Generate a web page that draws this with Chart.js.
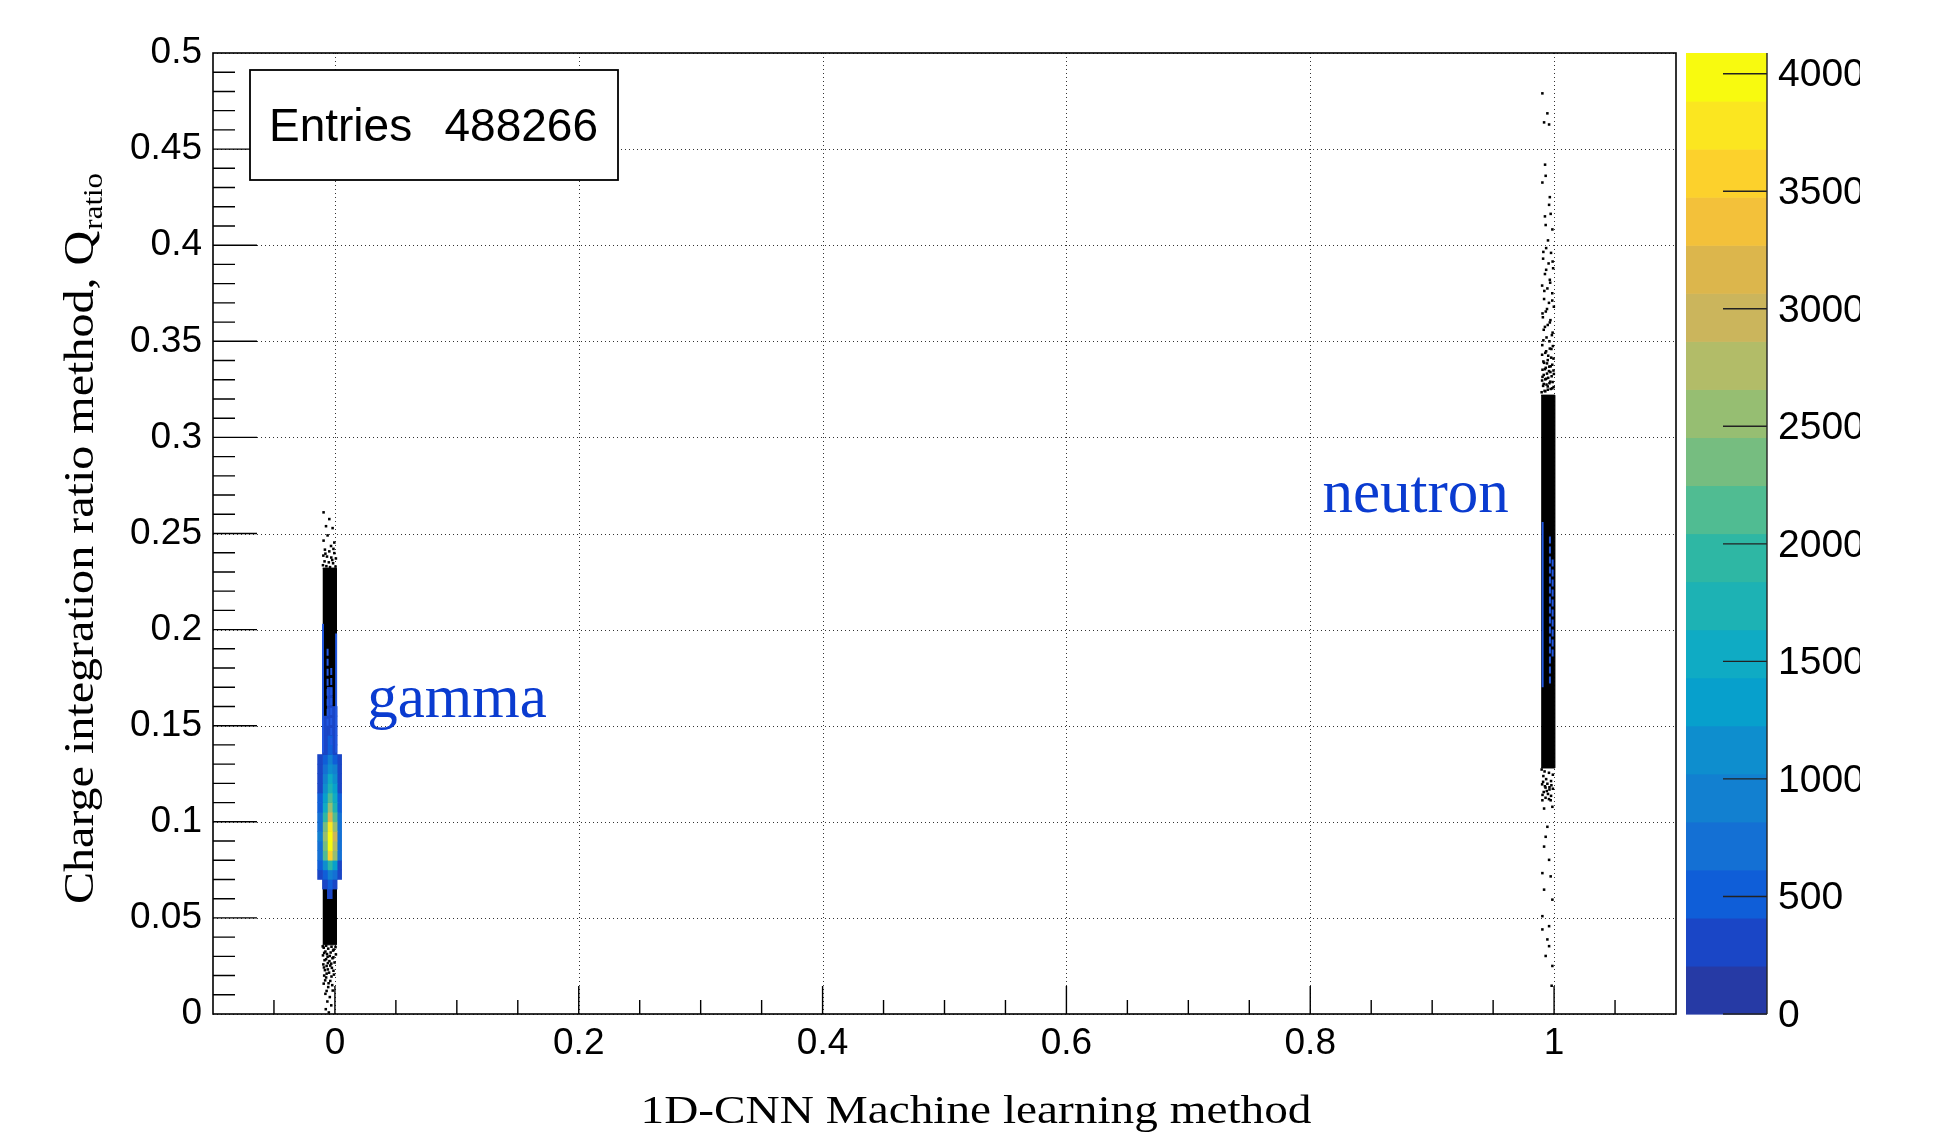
<!DOCTYPE html>
<html>
<head>
<meta charset="utf-8">
<title>Q_ratio vs 1D-CNN output</title>
<script src="https://cdn.jsdelivr.net/npm/chart.js@4.4.1/dist/chart.umd.min.js"></script>
<style>
  html, body { margin: 0; padding: 0; background: #fff; }
  #wrap { width: 1942px; height: 1134px; position: relative; }
  .fontwarm { position: absolute; left: -9999px; top: 0; }
</style>
</head>
<body>
<div id="wrap"><canvas id="chart"></canvas></div>
<span class="fontwarm" style="font-family:'Liberation Serif'">gamma</span>
<span class="fontwarm" style="font-family:'Liberation Sans'">0.45</span>
<script>
// axis ticks
const xTicks = [0, 0.2, 0.4, 0.6, 0.8, 1];
const yTicks = [0, 0.05, 0.1, 0.15, 0.2, 0.25, 0.3, 0.35, 0.4, 0.45, 0.5];
const zTicks = [0, 500, 1000, 1500, 2000, 2500, 3000, 3500, 4000];
const zMax = 4088;
const nLevels = 20;
const entries = 488266;

// colour levels (bottom -> top of the palette bar)
const palette = [
  '#263aa5', '#1a46c6', '#0f5ed8', '#1470d4', '#1280d0',
  '#0e8ece', '#07a0cc', '#0fabc4', '#1db2b4', '#2eb7a4',
  '#50bc92', '#76bd80', '#96be72', '#b2bc68', '#cbb55c',
  '#dcb64c', '#f3c13a', '#fcd12c', '#fbe620', '#f8fa0f'
];

// gamma cluster: solid band (x range, y range) and the scattered tails
const gammaBandX = [-0.0100, 0.0013];
const gammaBandY = [0.036, 0.232];
const gammaTail = [
  [-0.0093,0.2610],[-0.0046,0.2575],[-0.0073,0.2538],[-0.0019,0.2528],[-0.0060,0.2490],
  [-0.0093,0.2463],[-0.0005,0.2453],[-0.0032,0.2435],[-0.0082,0.2416],[-0.0046,0.2407],
  [-0.0005,0.2398],[-0.0095,0.2385],[-0.0065,0.2380],[-0.0030,0.2375],[0.0008,0.2370],
  [-0.0085,0.2355],[-0.0050,0.2350],[-0.0015,0.2345],[-0.0098,0.2335],[-0.0070,0.2330],
  [0.0005,0.2328],[-0.0040,0.2325],[-0.0022,0.2362],[-0.0078,0.2395],[-0.0012,0.2420],
  [-0.0092,0.0345],[-0.0055,0.0340],[-0.0010,0.0335],[-0.0078,0.0325],[-0.0035,0.0320],
  [0.0008,0.0310],[-0.0098,0.0305],[-0.0060,0.0298],[-0.0020,0.0290],[-0.0085,0.0280],
  [-0.0045,0.0275],[-0.0003,0.0268],[-0.0095,0.0258],[-0.0068,0.0250],[-0.0025,0.0240],
  [-0.0082,0.0228],[-0.0048,0.0215],[-0.0008,0.0205],[-0.0072,0.0190],[-0.0038,0.0172],
  [-0.0092,0.0158],[-0.0055,0.0140],[-0.0018,0.0122],[-0.0078,0.0105],[-0.0042,0.0088],
  [-0.0062,0.0065],[-0.0030,0.0045],[-0.0075,0.0025],[-0.0050,0.0008],[-0.0015,0.0330],
  [-0.0065,0.0312],[-0.0030,0.0262],[-0.0058,0.0232],[-0.0088,0.0200],
  [-0.0100,0.0352],[-0.0072,0.0355],[-0.0028,0.0350],[0.0005,0.0348],[-0.0088,0.0318],
  [-0.0042,0.0302],[-0.0012,0.0295],[-0.0072,0.0285],[-0.0058,0.0265],[-0.0090,0.0242],
  [-0.0038,0.0252],[-0.0012,0.0225],[-0.0068,0.0210],[-0.0028,0.0195],[-0.0080,0.0175],
  [-0.0052,0.0160],[-0.0022,0.0150],[-0.0068,0.0120]
];

// neutron cluster
const neutronBandX = [0.9894, 1.0007];
const neutronBandY = [0.128, 0.322];
const neutronTail = [
  [0.9904,0.4790],[0.9945,0.4686],[0.9918,0.4639],[0.9959,0.4628],[0.9926,0.4419],
  [0.9931,0.4361],[0.9904,0.4326],[0.9959,0.4210],[0.9972,0.4163],[0.9931,0.4105],
  [0.9986,0.4082],[0.9935,0.3985],[0.9975,0.3960],[0.9910,0.3930],[0.9955,0.3905],
  [0.9992,0.3880],[0.9925,0.3850],[0.9965,0.3820],[0.9902,0.3790],[0.9945,0.3775],
  [0.9985,0.3750],[0.9918,0.3720],[0.9958,0.3700],[0.9998,0.3680],[0.9932,0.3655],
  [0.9908,0.3625],[0.9970,0.3610],[0.9948,0.3585],[0.9915,0.3560],[0.9988,0.3545],
  [0.9938,0.3520],[0.9962,0.3500],[0.9903,0.3480],[0.9978,0.3460],[0.9928,0.3440],
  [0.9952,0.3425],[0.9995,0.3410],[0.9912,0.3395],[0.9942,0.3385],[0.9972,0.3370],
  [0.9925,0.3355],[0.9958,0.3345],[0.9998,0.3330],[0.9905,0.3315],[0.9935,0.3305],
  [0.9968,0.3290],[0.9915,0.3278],[0.9948,0.3265],[0.9985,0.3255],[0.9928,0.3240],
  [0.9898,0.3235],[0.9922,0.3242],[0.9948,0.3248],[0.9972,0.3252],[0.9996,0.3262],
  [0.9910,0.3268],[0.9938,0.3275],[0.9962,0.3282],[0.9988,0.3288],[0.9902,0.3296],
  [0.9928,0.3302],[0.9952,0.3310],[0.9980,0.3318],[0.9915,0.3325],[0.9942,0.3332],
  [0.9970,0.3340],[0.9995,0.3348],[0.9905,0.3352],[0.9932,0.3362],[0.9960,0.3368],
  [0.9985,0.3378],[0.9918,0.3388],[0.9948,0.3402],[0.9976,0.3415],[0.9902,0.3430],
  [0.9935,0.3448],[0.9965,0.3462],[0.9990,0.3475],[0.9912,0.3505],[0.9982,0.3532],
  [0.9925,0.3575],[0.9965,0.3598],[0.9905,0.3645],[0.9942,0.3668],[0.9985,0.3712],
  [0.9920,0.3762],[0.9968,0.3805],[0.9935,0.3872],[0.9988,0.3915],[0.9912,0.3965],
  [0.9950,0.4025],[0.9925,0.4150],[0.9965,0.4250],
  [0.9898,0.1272],[0.9922,0.1262],[0.9958,0.1255],[0.9990,0.1245],[0.9912,0.1238],
  [0.9935,0.1222],[0.9975,0.1212],[0.9902,0.1195],[0.9925,0.1185],[0.9962,0.1180],
  [0.9990,0.1172],[0.9940,0.1160],[0.9905,0.1140],[0.9975,0.1135],[0.9930,0.1125],
  [0.9958,0.1118],[0.9910,0.1208],[0.9945,0.1198],[0.9978,0.1190],[0.9930,0.1178],
  [0.9962,0.1168],[0.9915,0.1155],[0.9950,0.1145],
  [0.9904,0.1112],[0.9972,0.1112],[0.9918,0.1069],[0.9986,0.1078],[0.9945,0.0974],
  [0.9931,0.0922],[0.9918,0.0871],[0.9959,0.0802],[0.9904,0.0733],[0.9972,0.0716],
  [0.9918,0.0647],[0.9986,0.0595],[0.9904,0.0509],[0.9959,0.0457],[0.9904,0.0440],
  [0.9945,0.0388],[0.9959,0.0353],[0.9931,0.0302],[0.9986,0.0250],[0.9980,0.0147]
];

// lowest contour lines: [x, yLow, yHigh]
const gammaContours = [[-0.0098, 0.136, 0.203], [0.0010, 0.136, 0.198], [-0.0060, 0.150, 0.190], [-0.0030, 0.140, 0.180]];
const neutronContours = [[0.9906, 0.170, 0.256], [0.9966, 0.172, 0.250], [0.9988, 0.186, 0.238]];

// coloured core of the gamma peak: column edges, row centres, counts per cell
const heatCols = [-0.0142, -0.0102, -0.0062, -0.0022, 0.0018, 0.0055];
const heatRows = [0.0625, 0.0675, 0.0725, 0.0775, 0.0825, 0.0875, 0.0925, 0.0975, 0.1025, 0.1075, 0.1125,
                  0.1175, 0.1225, 0.1275, 0.1325, 0.1375, 0.1425, 0.1475, 0.1525, 0.1575, 0.1625, 0.1675];
const heatCounts = [
  [0, 120, 230, 150, 0],
  [0, 260, 460, 300, 0],
  [220, 600, 1000, 700, 210],
  [420, 1150, 1900, 1350, 400],
  [700, 2100, 3500, 2500, 650],
  [800, 2400, 3950, 2800, 750],
  [820, 2500, 4080, 2900, 780],
  [760, 2250, 3700, 2600, 720],
  [650, 1900, 3150, 2200, 620],
  [540, 1550, 2550, 1800, 500],
  [460, 1300, 2150, 1500, 430],
  [400, 1080, 1800, 1250, 380],
  [340, 900, 1500, 1050, 320],
  [280, 700, 1150, 820, 260],
  [230, 520, 850, 600, 215],
  [0, 360, 560, 400, 0],
  [0, 280, 420, 300, 0],
  [0, 230, 330, 250, 0],
  [0, 210, 280, 220, 0],
  [0, 0, 250, 210, 0],
  [0, 0, 230, 0, 0],
  [0, 0, 215, 0, 0]
];

// annotation positions (data coordinates)
const gammaLabel = {text: 'gamma', x: 0.0265, y: 0.1545};
const neutronLabel = {text: 'neutron', x: 0.81, y: 0.2612};

const zStep = zMax / nLevels;
const levelOf = c => Math.max(0, Math.min(nLevels - 1, Math.floor(c / zStep)));
const SANS = "'Liberation Sans', Arial, sans-serif";
const SERIF = "'Liberation Serif', 'Times New Roman', serif";
const labelBlue = '#0a3bd0';

function band(bx, by) {
  return [{x: bx[0], y: by[0]}, {x: bx[1], y: by[0]}, {x: bx[1], y: by[1]}, {x: bx[0], y: by[1]}];
}

const datasets = [];

// contour lines (on top)
gammaContours.concat(neutronContours).forEach((c, i) => {
  datasets.push({
    type: 'line', order: 0,
    data: [{x: c[0], y: c[1]}, {x: c[0], y: c[2]}],
    borderColor: '#2157e0', borderWidth: 2, pointRadius: 0, fill: false,
    borderDash: (i === 2 || i === 3 || i >= 5) ? [7, 3] : []
  });
});

// coloured cells
heatCols.slice(0, -1).forEach((left, j) => {
  datasets.push({
    type: 'bar', indexAxis: 'y', order: 1, grouped: false,
    barPercentage: 1, categoryPercentage: 1, borderWidth: 0,
    data: heatRows.map((yc, i) => ({y: yc, x: [left, heatCols[j + 1]], count: heatCounts[i][j]}))
                  .filter(d => d.count >= zStep),
    backgroundColor: c => palette[levelOf(c.raw ? c.raw.count : 0)]
  });
});

// scattered entries
[gammaTail, neutronTail].forEach(t => {
  datasets.push({
    type: 'scatter', order: 2,
    data: t.map(p => ({x: p[0], y: p[1]})),
    pointStyle: 'rect', pointRadius: 1.8, pointBorderWidth: 0,
    backgroundColor: '#000', borderColor: '#000'
  });
});

// dense black bands
[[gammaBandX, gammaBandY], [neutronBandX, neutronBandY]].forEach(b => {
  datasets.push({
    type: 'line', order: 3,
    data: band(b[0], b[1]),
    fill: 'shape', backgroundColor: '#000', borderColor: '#000', borderWidth: 1,
    pointRadius: 0, tension: 0
  });
});

function seg(ctx, x0, y0, x1, y1) {
  ctx.moveTo(x0, y0);
  ctx.lineTo(x1, y1);
}

// ROOT style frame, ticks, palette bar and text
const rootStyle = {
  id: 'rootStyle',
  beforeDatasetsDraw(chart) {
    const {ctx, chartArea: a} = chart;
    const x = chart.scales.x, y = chart.scales.y;
    ctx.save();
    ctx.strokeStyle = '#333';
    ctx.lineWidth = 1;
    ctx.setLineDash([1, 3]);
    ctx.beginPath();
    xTicks.forEach(v => {
      const p = Math.round(x.getPixelForValue(v)) + 0.5;
      seg(ctx, p, a.top, p, a.bottom);
    });
    yTicks.forEach(v => {
      const p = Math.round(y.getPixelForValue(v)) + 0.5;
      seg(ctx, a.left, p, a.right, p);
    });
    ctx.stroke();
    ctx.restore();
  },
  afterDraw(chart) {
    const {ctx, chartArea: a} = chart;
    const x = chart.scales.x, y = chart.scales.y, z = chart.scales.z;
    ctx.save();

    // frame
    ctx.strokeStyle = '#000';
    ctx.lineWidth = 1.6;
    ctx.strokeRect(a.left, a.top, a.right - a.left, a.bottom - a.top);

    // tick marks inside the frame
    ctx.lineWidth = 1.4;
    ctx.beginPath();
    for (let i = 1; i < 24; i++) {
      const v = -0.1 + i * 0.05;
      const major = xTicks.some(t => Math.abs(t - v) < 1e-6);
      const p = x.getPixelForValue(v);
      seg(ctx, p, a.bottom, p, a.bottom - (major ? 28 : 14));
    }
    for (let i = 1; i < 50; i++) {
      const p = y.getPixelForValue(i * 0.01);
      seg(ctx, a.left, p, a.left + (i % 5 === 0 ? 44 : 22), p);
    }
    ctx.stroke();

    // palette bar
    const bx0 = a.right + 10, bx1 = a.right + 91;
    for (let i = 0; i < nLevels; i++) {
      const p0 = z.getPixelForValue(i * zStep), p1 = z.getPixelForValue((i + 1) * zStep);
      ctx.fillStyle = palette[i];
      ctx.fillRect(bx0, p1, bx1 - bx0, p0 - p1 + 0.6);
    }
    ctx.lineWidth = 1.4;
    ctx.strokeStyle = '#222';
    ctx.beginPath();
    seg(ctx, bx1, a.top, bx1, a.bottom);
    zTicks.forEach(v => {
      const p = z.getPixelForValue(v);
      seg(ctx, bx1 - 44, p, bx1, p);
    });
    ctx.stroke();
    ctx.save();
    ctx.beginPath();
    ctx.rect(bx1, 0, 1860 - bx1, chart.height);
    ctx.clip();
    ctx.fillStyle = '#000';
    ctx.font = '39px ' + SANS;
    ctx.textAlign = 'left';
    ctx.textBaseline = 'middle';
    zTicks.forEach(v => ctx.fillText(String(v), bx1 + 11, z.getPixelForValue(v) + 2));
    ctx.restore();

    // statistics box
    const sx = a.left + 37, sy = a.top + 17, sw = 368, sh = 110;
    ctx.fillStyle = '#fff';
    ctx.fillRect(sx, sy, sw, sh);
    ctx.lineWidth = 1.8;
    ctx.strokeStyle = '#000';
    ctx.strokeRect(sx, sy, sw, sh);
    ctx.fillStyle = '#000';
    ctx.font = '46px ' + SANS;
    ctx.textBaseline = 'alphabetic';
    ctx.textAlign = 'left';
    ctx.fillText('Entries', sx + 19, sy + 71);
    ctx.textAlign = 'right';
    ctx.fillText(String(entries), sx + sw - 20, sy + 71);

    // cluster labels
    ctx.fillStyle = labelBlue;
    ctx.textAlign = 'left';
    ctx.font = '61px ' + SERIF;
    [gammaLabel, neutronLabel].forEach(l => {
      ctx.fillText(l.text, x.getPixelForValue(l.x), y.getPixelForValue(l.y));
    });

    // x title
    ctx.fillStyle = '#000';
    ctx.font = '40px ' + SERIF;
    const xt = '1D-CNN Machine learning method';
    const xw = ctx.measureText(xt).width;
    ctx.save();
    ctx.translate(976, 1123);
    ctx.scale(671 / xw, 1);
    ctx.textAlign = 'center';
    ctx.fillText(xt, 0, 0);
    ctx.restore();

    // y title with subscript
    const yt = 'Charge integration ratio method, Q';
    ctx.font = '42px ' + SERIF;
    const w1 = ctx.measureText(yt).width;
    ctx.font = '27px ' + SERIF;
    const w2 = ctx.measureText('ratio').width;
    ctx.save();
    ctx.translate(93, 904);
    ctx.rotate(-Math.PI / 2);
    ctx.scale(731 / (w1 + w2 + 1), 1);
    ctx.textAlign = 'left';
    ctx.font = '42px ' + SERIF;
    ctx.fillText(yt, 0, 0);
    ctx.font = '27px ' + SERIF;
    ctx.fillText('ratio', w1 + 1, 9);
    ctx.restore();

    ctx.restore();
  }
};

const tickFont = {family: SANS, size: 37};

function build() {
  new Chart(document.getElementById('chart'), {
    type: 'scatter',
    data: {datasets},
    options: {
      responsive: true,
      maintainAspectRatio: false,
      animation: false,
      events: [],
      devicePixelRatio: 1,
      layout: {padding: {left: 0, top: 53, right: 266, bottom: 0}},
      plugins: {legend: {display: false}, tooltip: {enabled: false}},
      scales: {
        x: {
          type: 'linear', min: -0.1, max: 1.1, offset: false,
          grid: {display: false, drawTicks: false, offset: false},
          border: {display: false},
          afterBuildTicks: s => { s.ticks = xTicks.map(v => ({value: v})); },
          afterFit: s => { s.height = 120; },
          ticks: {padding: 8, autoSkip: false, maxRotation: 0, color: '#000', font: tickFont,
                  callback: v => String(+(+v).toFixed(2))}
        },
        y: {
          type: 'linear', min: 0, max: 0.5, offset: false,
          grid: {display: false, drawTicks: false, offset: false},
          border: {display: false},
          afterBuildTicks: s => { s.ticks = yTicks.map(v => ({value: v})); },
          afterFit: s => { s.width = 213; },
          ticks: {padding: 11, autoSkip: false, color: '#000', font: tickFont,
                  callback: v => String(+(+v).toFixed(2))}
        },
        z: {type: 'linear', position: 'right', display: false, min: 0, max: zMax}
      }
    },
    plugins: [rootStyle]
  });
}

Promise.all([
  document.fonts.load('40px "Liberation Serif"'),
  document.fonts.load('40px "Liberation Sans"')
]).then(build, build);
</script>
</body>
</html>
